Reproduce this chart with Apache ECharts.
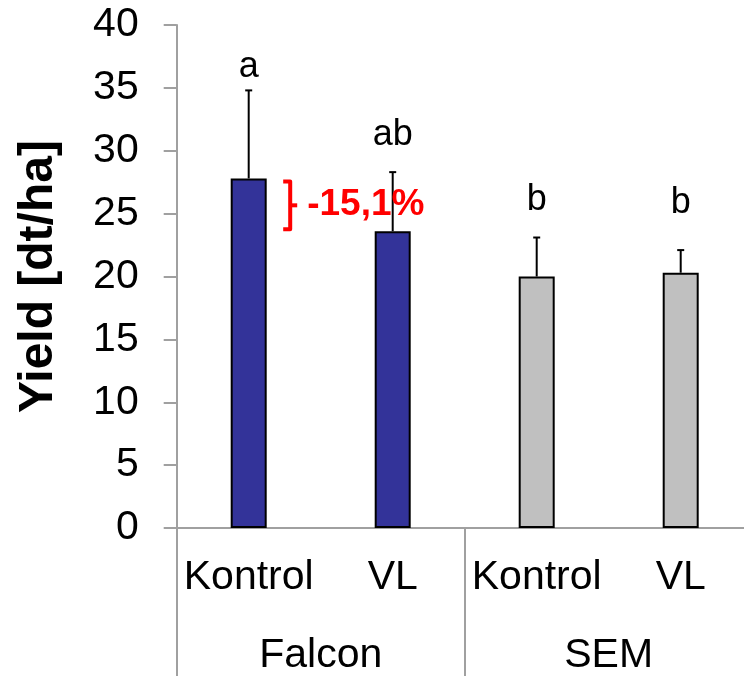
<!DOCTYPE html>
<html>
<head>
<meta charset="utf-8">
<script src="https://cdn.jsdelivr.net/npm/echarts@6/dist/echarts.min.js"></script>
<style>
html,body{margin:0;padding:0;background:#fff;}
#chart{width:744px;height:676px;}
</style>
</head>
<body>
<div id="chart"></div>
<script>
const categories = ['Kontrol', 'VL', 'Kontrol', 'VL'];
const groups = ['Falcon', 'SEM'];
const yieldMean = [27.8, 23.6, 20.0, 20.3];
const yieldSD = [7.0, 4.7, 3.1, 1.8];
const letters = ['a', 'ab', 'b', 'b'];
const yAxisName = 'Yield [dt/ha]';

const FONT = '"Liberation Sans", Arial, sans-serif';
const AXIS_COLOR = '#a0a0a0';
const barColors = ['#333399', '#333399', '#c0c0c0', '#c0c0c0'];
const letterGap = [11, 25, 25, 35];

const chart = echarts.init(document.getElementById('chart'), null, {renderer: 'canvas'});

const option = {
  animation: false,
  backgroundColor: '#ffffff',
  grid: {left: 176.7, top: 25, width: 576, height: 503, containLabel: false, outerBoundsMode: 'none'},
  xAxis: [
    {
      type: 'category', data: categories, position: 'bottom',
      axisLine: {show: true, lineStyle: {color: AXIS_COLOR, width: 2}},
      axisTick: {show: false},
      axisLabel: {interval: 0, color: '#000', fontSize: 41, fontFamily: FONT, margin: 29}
    },
    {
      type: 'category', data: groups, position: 'bottom',
      axisLine: {show: false},
      axisTick: {show: true, interval: 0, length: 150, lineStyle: {color: AXIS_COLOR, width: 2}},
      axisLabel: {interval: 0, color: '#000', fontSize: 41, fontFamily: FONT, margin: 107}
    }
  ],
  yAxis: {
    type: 'value', min: 0, max: 40, interval: 5,
    axisLine: {show: true, lineStyle: {color: AXIS_COLOR, width: 2}},
    axisTick: {show: true, length: 13, lineStyle: {color: AXIS_COLOR, width: 2}},
    splitLine: {show: false},
    axisLabel: {color: '#000', fontSize: 41, fontFamily: FONT, margin: 38}
  },
  series: [
    {
      type: 'bar', xAxisIndex: 0, yAxisIndex: 0, barWidth: 36,
      data: yieldMean.map((v, i) => ({value: v, itemStyle: {color: barColors[i]}})),
      itemStyle: {borderColor: '#000', borderWidth: 2},
      z: 2
    },
    {
      type: 'custom', xAxisIndex: 0, yAxisIndex: 0, z: 3,
      data: yieldMean.map((m, i) => [i, m, m + yieldSD[i]]),
      renderItem: function (params, api) {
        const i = api.value(0);
        const base = api.coord([i, api.value(1)]);
        const top = api.coord([i, api.value(2)]);
        const capW = 3.5;
        return {
          type: 'group',
          children: [
            {type: 'line', shape: {x1: top[0], y1: base[1], x2: top[0], y2: top[1]}, style: {stroke: '#000', lineWidth: 2}},
            {type: 'line', shape: {x1: top[0] - capW, y1: top[1], x2: top[0] + capW, y2: top[1]}, style: {stroke: '#000', lineWidth: 2}},
            {type: 'text', x: top[0], y: top[1] - letterGap[i] - 12,
              style: {text: letters[params.dataIndex], font: '36px ' + FONT, fill: '#000', align: 'center', verticalAlign: 'middle'}}
          ]
        };
      }
    }
  ]
};
chart.setOption(option);

// annotation derived from data through the axes
const pTop = chart.convertToPixel({xAxisIndex: 0, yAxisIndex: 0}, [0, yieldMean[0]]);
const pBot = chart.convertToPixel({xAxisIndex: 0, yAxisIndex: 0}, [1, yieldMean[1]]);
const pct = ((yieldMean[0] - yieldMean[1]) / yieldMean[0] * 100).toFixed(1).replace('.', ',');
const bx = pTop[0] + 34.5;
const y1 = pTop[1] + 3;
const y2 = pBot[1] - 2;
const ym = (y1 + y2) / 2;

chart.setOption({
  graphic: [
    {
      type: 'text', x: 38.5, y: 276.5, rotation: Math.PI / 2,
      style: {text: yAxisName, font: 'bold 48px ' + FONT, fill: '#000', align: 'center', verticalAlign: 'middle'}
    },
    {
      type: 'polyline', shape: {points: [[bx, y1], [bx + 7, y1], [bx + 7, y2], [bx, y2]]},
      style: {stroke: '#ff0000', lineWidth: 4, fill: null, lineJoin: 'round'}, z: 10
    },
    {
      type: 'line', shape: {x1: bx + 7, y1: ym, x2: bx + 14, y2: ym},
      style: {stroke: '#ff0000', lineWidth: 4}, z: 10
    },
    {
      type: 'text', x: bx + 24, y: ym - 1,
      style: {text: '-' + pct + '%', font: 'bold 37px ' + FONT, fill: '#ff0000', align: 'left', verticalAlign: 'middle'}, z: 10
    }
  ]
});
</script>
</body>
</html>
